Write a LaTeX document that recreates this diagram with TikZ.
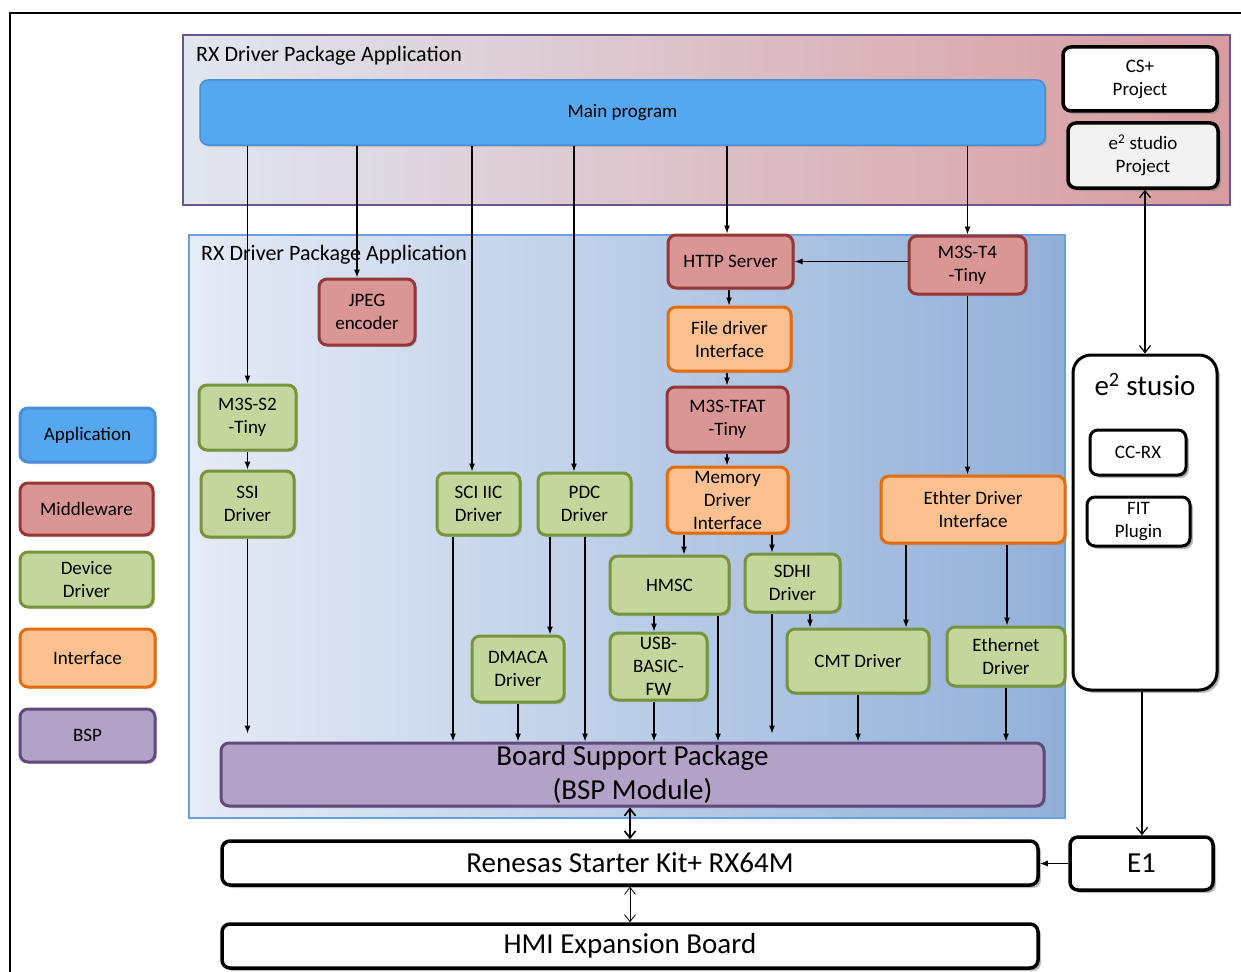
\documentclass[tikz,border=0pt]{standalone}
\usepackage{fontspec}
\setmainfont{Carlito}
\usetikzlibrary{arrows.meta,shadows,calc}
\definecolor{appf}{HTML}{55A8F0}
\definecolor{appd}{HTML}{4A8FD6}
\definecolor{mwf}{HTML}{D99694}
\definecolor{mwd}{HTML}{953735}
\definecolor{devf}{HTML}{C3D69B}
\definecolor{devd}{HTML}{77933C}
\definecolor{intf}{HTML}{FAC090}
\definecolor{intd}{HTML}{E46C0A}
\definecolor{bspf}{HTML}{B3A2C7}
\definecolor{bspd}{HTML}{604A7B}
\definecolor{outd}{HTML}{6A5590}
\definecolor{ind}{HTML}{6C9FDD}
\newcommand{\lblfont}{\fontsize{19}{23}\selectfont}
\newcommand{\bigfont}{\fontsize{29}{34}\selectfont}
\newcommand{\ttlfont}{\fontsize{22}{26}\selectfont}
\begin{document}
\begin{tikzpicture}[x=1pt,y=-1pt,
  box/.style={rounded corners=8pt, line width=3pt, align=center, inner sep=0pt,
    font=\lblfont, drop shadow={shadow xshift=2pt,shadow yshift=-2pt,opacity=0.3}},
  appbox/.style={box, fill=appf, draw=appd, line width=1.5pt},
  mwbox/.style={box, fill=mwf, draw=mwd},
  devbox/.style={box, fill=devf, draw=devd},
  intbox/.style={box, fill=intf, draw=intd},
  bspbox/.style={box, fill=bspf, draw=bspd},
  blkbox/.style={box, fill=white, draw=black, line width=3.5pt,
    drop shadow={shadow xshift=3pt,shadow yshift=-3pt,opacity=0.5}},
  arr/.style={-{Latex[length=8pt,width=6pt]}, line width=1.1pt},
  darr/.style={{Straight Barb[length=7pt,width=11pt]}-{Straight Barb[length=7pt,width=11pt]}, line width=1.2pt},
]
\useasboundingbox (0,0) rectangle (1241,971);
\draw[line width=1.2pt] (10,975) -- (10,13) -- (1245,13);

% outer application frame
\draw[outd, line width=2.5pt, left color={rgb,255:red,224;green,230;blue,241}, right color={rgb,255:red,216;green,155;blue,158}]
  (183,35) rectangle (1230,205);
\node[anchor=west, font=\ttlfont, inner sep=0pt] (ttl1) at (196,56) {RX Driver Package Application};

% inner frame
\draw[ind, line width=2pt, left color={rgb,255:red,229;green,235;blue,246}, right color={rgb,255:red,146;green,176;blue,216}]
  (189,235) rectangle (1065,818);
\node[anchor=west, font=\ttlfont, inner sep=0pt] (ttl2) at (201,255) {RX Driver Package Application};

% top row
\node[appbox, minimum width=845, minimum height=65] (main) at (622.5,112.5) {Main program};
\node[blkbox, minimum width=154, minimum height=64] (csp) at (1140,79) {CS+\\Project};
\node[blkbox, fill={rgb,255:red,242;green,242;blue,242}, minimum width=150, minimum height=65] (e2p) at (1143,155.5) {e\textsuperscript{2} studio\\Project};

% middleware / interface / drivers
\node[mwbox, minimum width=125, minimum height=53] (http) at (730.5,261.5) {HTTP Server};
\node[mwbox, minimum width=117, minimum height=58] (t4) at (967.5,265) {M3S-T4\\-Tiny};
\node[mwbox, minimum width=96, minimum height=66] (jpeg) at (367,312) {JPEG\\encoder};
\node[intbox, minimum width=123, minimum height=64] (file) at (729.5,339) {File driver\\Interface};
\node[mwbox, minimum width=121, minimum height=65] (tfat) at (727.5,419.5) {M3S-TFAT\\-Tiny};
\node[intbox, minimum width=121, minimum height=66] (mem) at (727.5,500) {Memory\\Driver\\Interface};
\node[devbox, minimum width=97, minimum height=65] (s2) at (247.5,417.5) {M3S-S2\\-Tiny};
\node[devbox, minimum width=93, minimum height=66] (ssi) at (247.5,504) {SSI\\Driver};
\node[devbox, minimum width=83, minimum height=62] (sci) at (478.5,504) {SCI IIC\\Driver};
\node[devbox, minimum width=93, minimum height=62] (pdc) at (584.5,504) {PDC\\Driver};
\node[intbox, minimum width=184, minimum height=67] (ethi) at (973,509.5) {Ethter Driver\\Interface};
\node[devbox, minimum width=119, minimum height=58] (hmsc) at (669.5,585) {HMSC};
\node[devbox, minimum width=95, minimum height=58] (sdhi) at (792.5,583) {SDHI\\Driver};
\node[devbox, minimum width=92, minimum height=66] (dmaca) at (518,669) {DMACA\\Driver};
\node[devbox, minimum width=97, minimum height=67] (usb) at (658.5,666.5) {USB-\\BASIC-\\FW};
\node[devbox, minimum width=142, minimum height=64] (cmt) at (858,661) {CMT Driver};
\node[devbox, minimum width=118, minimum height=59] (ethd) at (1006,656.5) {Ethernet\\Driver};
\node[bspbox, minimum width=823, minimum height=63, font=\bigfont] (bsp) at (632.5,774.5) {Board Support Package\\(BSP Module)};

% boards
\node[blkbox, minimum width=816, minimum height=44, font=\bigfont] (rsk) at (630,863) {Renesas Starter Kit+ RX64M};
\node[blkbox, minimum width=816, minimum height=44, font=\bigfont] (hmi) at (630,946) {HMI Expansion Board};
\node[blkbox, minimum width=143, minimum height=53, font=\bigfont] (e1) at (1141.5,863.5) {E1};

% e2 studio tool box
\node[blkbox, line width=3pt, rounded corners=18pt, minimum width=144, minimum height=335] (e2s) at (1145,522.5) {};
\node[font=\bigfont, inner sep=0pt] (e2st) at (1145,385) {e\textsuperscript{2} stusio};
\node[blkbox, line width=3pt, minimum width=96, minimum height=45] (ccrx) at (1138,452.5) {CC-RX};
\node[blkbox, line width=3pt, minimum width=103, minimum height=49] (fit) at (1138.5,521.5) {FIT\\Plugin};

% legend
\node[appbox, line width=3pt, minimum width=135, minimum height=54] (lapp) at (87.5,435) {Application};
\node[mwbox, minimum width=133, minimum height=52] (lmw) at (86.5,509) {Middleware};
\node[devbox, minimum width=133, minimum height=55] (ldev) at (86.5,579.5) {Device\\Driver};
\node[intbox, minimum width=135, minimum height=58] (lint) at (87.5,658) {Interface};
\node[bspbox, minimum width=135, minimum height=53] (lbsp) at (87.5,735.5) {BSP};

% arrows from main program
\draw[arr] (main.south -| s2.north) -- (s2.north);
\draw[arr] (main.south -| 357,0) -- (jpeg.north -| 357,0);
\draw[arr] (main.south -| 472,0) -- (sci.north -| 472,0);
\draw[arr] (main.south -| 574,0) -- (pdc.north -| 574,0);
\draw[arr] (main.south -| 727,0) -- (http.north -| 727,0);
\draw[arr] (main.south -| t4.north) -- (t4.north);

% middleware chain
\draw[arr] (t4.west |- http.east) -- (http.east);
\draw[arr] (http.south -| 729,0) -- (file.north -| 729,0);
\draw[arr] (file.south -| 727,0) -- (tfat.north -| 727,0);
\draw[arr] (tfat.south -| 727,0) -- (mem.north -| 727,0);
\draw[arr] (mem.south -| 684,0) -- (hmsc.north -| 684,0);
\draw[arr] (mem.south -| 772,0) -- (sdhi.north -| 772,0);
\draw[arr] (t4.south) -- (ethi.north -| t4.south);
\draw[arr] (ethi.south -| 906,0) -- (cmt.north -| 906,0);
\draw[arr] (ethi.south -| 1007,0) -- (ethd.north -| 1007,0);

% drivers
\draw[arr] (s2.south) -- (ssi.north);
\draw[arr] (ssi.south) -- ($(bsp.north -| ssi.south)+(0,-8)$);
\draw[arr] (sci.south -| 453,0) -- (bsp.north -| 453,0);
\draw[arr] (pdc.south -| 550,0) -- (dmaca.north -| 550,0);
\draw[arr] (pdc.south -| 585,0) -- (bsp.north -| 585,0);
\draw[arr] (dmaca.south) -- (bsp.north -| dmaca.south);
\draw[arr] (hmsc.south -| 654,0) -- (usb.north -| 654,0);
\draw[arr] (usb.south -| 654,0) -- (bsp.north -| 654,0);
\draw[arr] (hmsc.south -| 718,0) -- (bsp.north -| 718,0);
\draw[arr] (sdhi.south -| 772,0) -- ($(bsp.north -| 772,0)+(0,-8)$);
\draw[arr] (sdhi.south -| 810,0) -- (cmt.north -| 810,0);
\draw[arr] (cmt.south) -- (bsp.north -| cmt.south);
\draw[arr] (ethd.south) -- (bsp.north -| ethd.south);

% boards and tools
\draw[darr, line width=1.6pt] (bsp.south -| 630,0) -- (rsk.north -| 630,0);
\draw[darr, line width=0.8pt] (rsk.south -| 630,0) -- (hmi.north -| 630,0);
\draw[arr] (e1.west) -- (rsk.east |- e1.west);
\draw[darr] (e2p.south -| 1145,0) -- (e2s.north -| 1145,0);
\draw[-{Straight Barb[length=7pt,width=11pt]}, line width=1.2pt] (e2s.south -| 1142,0) -- (e1.north -| 1142,0);
\end{tikzpicture}
\end{document}
